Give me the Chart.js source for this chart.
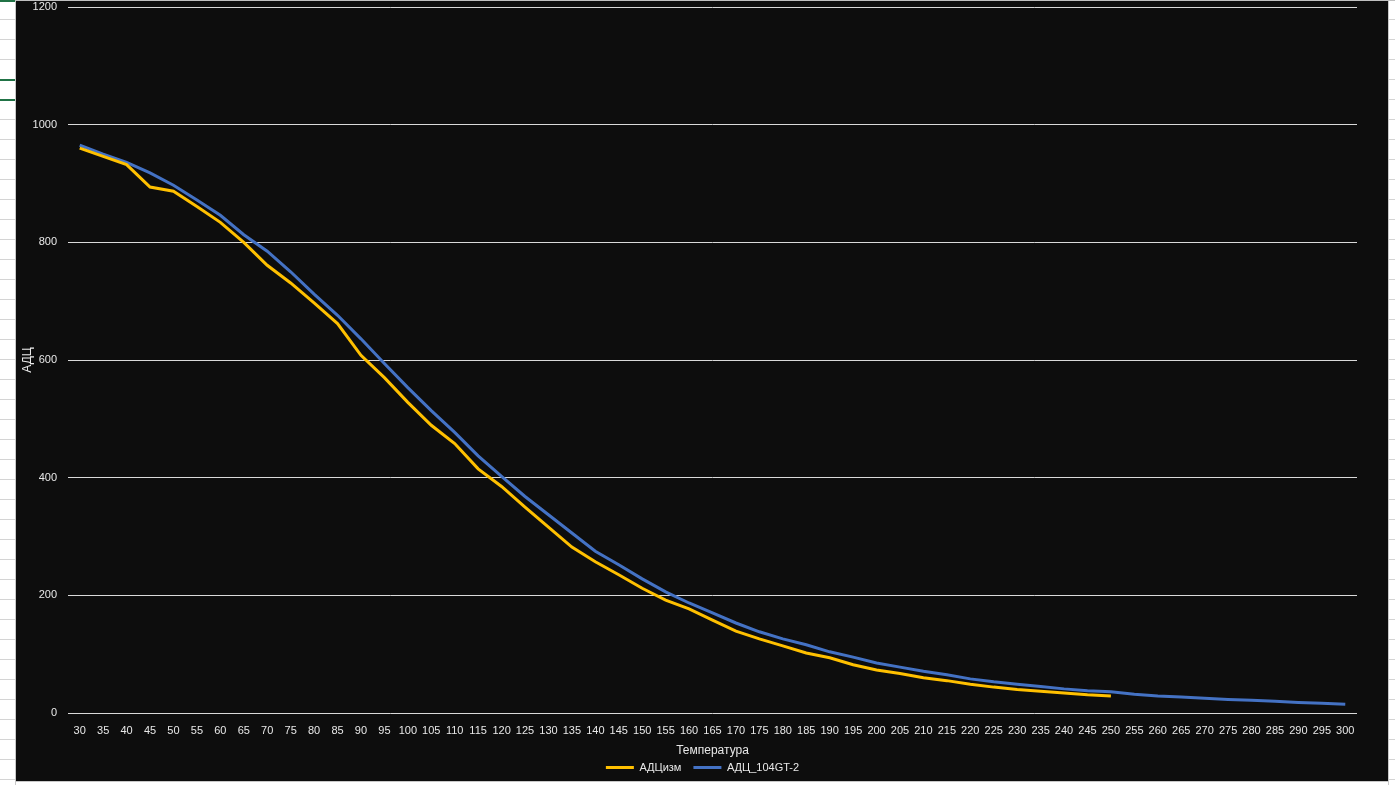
<!DOCTYPE html>
<html>
<head>
<meta charset="utf-8">
<script src="https://cdn.jsdelivr.net/npm/chart.js@4/dist/chart.umd.min.js"></script>
<style>
    html, body {
        margin: 0;
        padding: 0;
        width: 1395px;
        height: 785px;
        overflow: hidden;
        background: #ffffff;
    }
    /* excel sheet rows peeking out at the sides */
    .sheet {
        position: absolute;
        top: 0;
        height: 785px;
        background: repeating-linear-gradient(to bottom, #ffffff 0px, #ffffff 19px, #d4d4d4 19px, #d4d4d4 20px);
    }
    #chartBox {
        position: absolute;
        left: 16px;
        top: 1px;
        width: 1372px;
        height: 780px;
        background: #0d0d0d;
    }
</style>
</head>
<body>

<div class="sheet" style="left:0;width:15px;"></div>
<div style="position:absolute;left:15px;top:0;width:1px;height:785px;background:#c8c8c8;"></div>
<div class="sheet" style="left:1389px;width:6px;"></div>
<div style="position:absolute;left:1388px;top:0;width:1px;height:785px;background:#c8c8c8;"></div>
<div style="position:absolute;left:0;top:0;width:1395px;height:1px;background:#bfbfbf;"></div>
<div style="position:absolute;left:0;top:0;width:15px;height:2px;background:#217346;"></div>
<div style="position:absolute;left:0;top:79px;width:15px;height:2px;background:#217346;"></div>
<div style="position:absolute;left:0;top:99px;width:15px;height:2px;background:#217346;"></div>
<div style="position:absolute;left:16px;top:781px;width:1372px;height:1px;background:#c8c8c8;"></div>

<div id="chartBox">
    <canvas id="adc"></canvas>
</div>

<script>

// Temperature steps along the x axis
var temps = ['30', '35', '40', '45', '50', '55', '60', '65', '70', '75',
    '80', '85', '90', '95', '100', '105', '110', '115', '120', '125',
    '130', '135', '140', '145', '150', '155', '160', '165', '170', '175',
    '180', '185', '190', '195', '200', '205', '210', '215', '220', '225',
    '230', '235', '240', '245', '250', '255', '260', '265', '270', '275',
    '280', '285', '290', '295', '300'];

// measured (stops at 250)
var adcMeasured = [960, 946, 932, 894, 887, 861, 834, 800, 761, 731,
    697, 662, 608, 570, 528, 489, 458, 415, 385, 350,
    316, 282, 257, 235, 212, 192, 177, 158, 139, 126,
    114, 102, 94, 82, 73, 67, 60, 55, 49, 44,
    40, 37, 34, 31, 29];

// reference sensor 104GT-2
var adc104 = [965, 950, 936, 918, 897, 872, 846, 813, 785, 750,
    712, 676, 636, 594, 553, 514, 477, 437, 402, 368,
    337, 306, 275, 252, 228, 206, 187, 170, 153, 138,
    126, 116, 104, 95, 85, 78, 71, 65, 58, 53,
    49, 45, 41, 38, 36, 32, 29, 27, 25, 23,
    21.5, 20, 18, 16.5, 15];

var yTicks = [0, 200, 400, 600, 800, 1000, 1200];

var textColor = '#e8e8e8';
var gridColor = '#d9d9d9';

document.addEventListener('DOMContentLoaded', () => {

    var ctx = document.getElementById('adc');

    var myChart = new Chart(ctx, {
        type: 'line',
        data: {
            labels: temps,
            datasets: [{
                label: 'АДЦизм',
                data: adcMeasured,
                borderColor: '#ffc000',
                backgroundColor: '#ffc000',
                borderWidth: 3,
                pointRadius: 0,
                tension: 0
            }, {
                label: 'АДЦ_104GT-2',
                data: adc104,
                borderColor: '#4472c4',
                backgroundColor: '#4472c4',
                borderWidth: 3,
                pointRadius: 0,
                tension: 0
            }]
        },
        options: {
            responsive: true,
            maintainAspectRatio: false,
            animation: false,
            layout: {
                padding: {left: 4, right: 3, top: 0, bottom: -2}
            },
            plugins: {
                legend: {
                    position: 'bottom',
                    labels: {
                        color: textColor,
                        font: {family: 'Liberation Sans', size: 11},
                        usePointStyle: true,
                        pointStyle: 'line',
                        pointStyleWidth: 28,
                        padding: 12
                    }
                },
                tooltip: {enabled: false}
            },
            scales: {
                x: {
                    offset: true,
                    grid: {display: false, drawTicks: false},
                    border: {display: false},
                    ticks: {
                        color: textColor,
                        font: {family: 'Liberation Sans', size: 11},
                        padding: 11,
                        maxRotation: 0,
                        autoSkip: false
                    },
                    title: {
                        display: true,
                        text: 'Температура',
                        color: textColor,
                        font: {family: 'Liberation Sans', size: 12},
                        padding: {top: 0, bottom: -8}
                    },
                    afterFit: (scale) => {
                        scale.height = 37;
                        // room on the right of the plot, legend stays centred on the whole box
                        scale.paddingRight = 31;
                    }
                },
                y: {
                    min: 0,
                    max: 1200,
                    afterBuildTicks: (axis) => {
                        axis.ticks = yTicks.map(v => ({value: v}));
                    },
                    grid: {
                        color: gridColor,
                        lineWidth: 1,
                        drawTicks: false
                    },
                    border: {display: false},
                    ticks: {
                        color: textColor,
                        font: {family: 'Liberation Sans', size: 11},
                        padding: 11,
                        callback: (v) => String(v)
                    },
                    title: {
                        display: true,
                        text: 'АДЦ',
                        color: textColor,
                        font: {family: 'Liberation Sans', size: 12},
                        padding: {top: 0, bottom: 0}
                    },
                    afterFit: (scale) => {
                        scale.width = 48;
                        scale.paddingTop = 6;
                        scale.paddingBottom = 6;
                    }
                }
            }
        }
    });

});
</script>
</body>
</html>
